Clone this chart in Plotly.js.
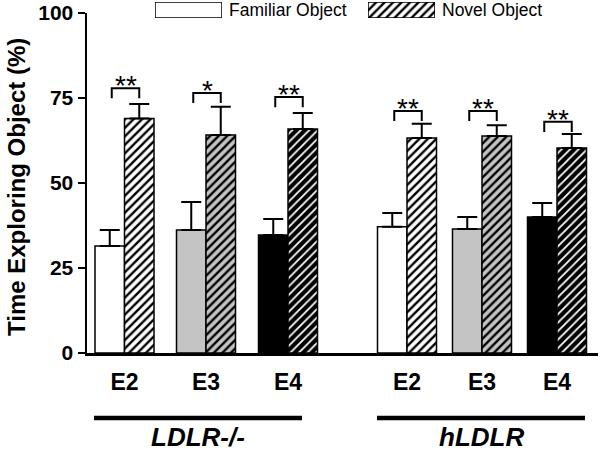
<!DOCTYPE html>
<html>
<head>
<meta charset="utf-8">
<script src="https://cdn.plot.ly/plotly-3.0.1.min.js"></script>
<style>html,body{margin:0;padding:0;background:#fff}#chart{width:600px;height:454px}</style>
</head>
<body>
<div id="chart"></div>
<script>
// ---- data ----
const categories = ['E2', 'E3', 'E4', 'E2', 'E3', 'E4'];
const groupLabels = ['LDLR-/-', 'hLDLR'];
const familiarMean = [31.5, 36.2, 34.7, 37.1, 36.5, 40.0];
const familiarSEM  = [4.7, 8.2, 4.7, 4.1, 3.5, 4.1];
const novelMean    = [69.0, 64.1, 65.9, 63.2, 63.8, 60.3];
const novelSEM     = [4.2, 8.3, 4.7, 4.2, 3.2, 4.1];
const sigLabels    = ['**', '*', '**', '**', '**', '**'];
const sigHeights   = [77.9, 76.5, 75.3, 71.2, 71.2, 68.0];
const seriesNames  = ['Familiar Object', 'Novel Object'];
const levels       = ['E2', 'E3', 'E4'];
const yTitle       = 'Time Exploring Object (%)';
const yTicks       = [0, 25, 50, 75, 100];

// ---- layout helpers (positions / styles) ----
const pairCenters = [37.5, 119, 201, 320, 395, 470];
const groupSpans = [[7, 215], [290, 498]];
const barW = 29.5;
const FONT = 'Liberation Sans, Arial, sans-serif';
const levelFill = {E2: '#ffffff', E3: '#c4c4c4', E4: '#000000'};
const levelStripe = {E2: '#000000', E3: '#000000', E4: '#ffffff'};
const levelSolid = {E2: 0.4, E3: 0.4, E4: 0.3};

const famX = pairCenters.map(c => c - barW / 2);
const novX = pairCenters.map(c => c + barW / 2);

const familiar = {
  type: 'bar', x: famX, y: familiarMean, width: barW,
  name: seriesNames[0], showlegend: false, hoverinfo: 'skip',
  marker: {color: categories.map(c => levelFill[c]), line: {color: '#000', width: 1.5}},
  error_y: {type: 'data', symmetric: false, array: familiarSEM,
            arrayminus: familiarSEM.map(() => 0), color: '#000', thickness: 2, width: 10}
};

// novel bars: one trace per genotype level so each gets its own hatch colours
const novelTraces = levels.map(lv => {
  const idx = categories.map((c, i) => c === lv ? i : -1).filter(i => i >= 0);
  return {
    type: 'bar', x: idx.map(i => novX[i]), y: idx.map(i => novelMean[i]), width: barW,
    name: seriesNames[1] + ' ' + lv, showlegend: false, hoverinfo: 'skip',
    marker: {color: levelFill[lv], line: {color: '#000', width: 1.5},
             pattern: {shape: '/', bgcolor: levelFill[lv], fgcolor: levelStripe[lv], fgopacity: 1,
                       size: 6, solidity: levelSolid[lv]}},
    error_y: {type: 'data', symmetric: false, array: idx.map(i => novelSEM[i]),
              arrayminus: idx.map(() => 0), color: '#000', thickness: 2, width: 10}
  };
});

// significance brackets
const bx = [], by = [];
sigHeights.forEach((h, i) => {
  const l = famX[i] + 2, r = novX[i];
  bx.push(l, l, r, r, null);
  by.push(h - 3, h, h, h - 3, null);
});
const brackets = {type: 'scatter', mode: 'lines', x: bx, y: by, showlegend: false,
  hoverinfo: 'skip', line: {color: '#000', width: 2}, cliponaxis: false};

// legend swatches drawn as bars in small subplots
const legFam = {type: 'bar', x: [0], y: [1], width: 1, xaxis: 'x2', yaxis: 'y2',
  showlegend: false, hoverinfo: 'skip', cliponaxis: false,
  marker: {color: '#fff', line: {color: '#000', width: 1.5}}};
const legNov = {type: 'bar', x: [0], y: [1], width: 1, xaxis: 'x3', yaxis: 'y3',
  showlegend: false, hoverinfo: 'skip', cliponaxis: false,
  marker: {color: '#fff', line: {color: '#000', width: 1.5},
           pattern: {shape: '/', bgcolor: '#fff', fgcolor: '#000', fgopacity: 1, size: 6, solidity: 0.4}}};

const H = 353; // plot-area height in px (margin t = 0)
const py = p => (H - p) / H; // pixel row -> paper y
const px = p => (p - 87) / 511; // pixel column -> paper x

const annotations = [];
sigLabels.forEach((s, i) => {
  annotations.push({x: (famX[i] + 2 + novX[i]) / 2, y: sigHeights[i], xref: 'x', yref: 'y',
    text: s, showarrow: false, xanchor: 'center', yanchor: 'bottom', yshift: -15,
    font: {family: FONT, size: 28, color: '#000'}});
});
groupLabels.forEach((g, i) => {
  annotations.push({x: (groupSpans[i][0] + groupSpans[i][1]) / 2, y: py(437), xref: 'x', yref: 'paper',
    text: '<b><i>' + g + '</i></b>', showarrow: false, xanchor: 'center', yanchor: 'middle',
    font: {family: FONT, size: 26, color: '#000'}});
});
annotations.push({x: px(227), y: py(10), xref: 'paper', yref: 'paper', text: seriesNames[0],
  showarrow: false, xanchor: 'left', yanchor: 'middle', font: {family: FONT, size: 17.5, color: '#000'}});
annotations.push({x: px(440), y: py(10), xref: 'paper', yref: 'paper', text: seriesNames[1],
  showarrow: false, xanchor: 'left', yanchor: 'middle', font: {family: FONT, size: 17.5, color: '#000'}});
annotations.push({x: px(16), y: py(187), xref: 'paper', yref: 'paper', text: '<b>' + yTitle + '</b>',
  textangle: -90, showarrow: false, xanchor: 'center', yanchor: 'middle',
  font: {family: FONT, size: 24, color: '#000'}});

const shapes = groupSpans.map(s => ({type: 'line', xref: 'x', yref: 'paper',
  x0: s[0], x1: s[1], y0: py(418), y1: py(418), line: {color: '#000', width: 4.5}}));

const layout = {
  width: 600, height: 454,
  margin: {l: 87, r: 2, t: 0, b: 101},
  paper_bgcolor: '#fff', plot_bgcolor: 'rgba(0,0,0,0)',
  barmode: 'overlay', showlegend: false,
  font: {family: FONT, color: '#000'},
  xaxis: {range: [0, 511], showline: true, linewidth: 2.5, linecolor: '#000',
          showgrid: false, zeroline: false, ticks: '', tickvals: pairCenters, ticktext: categories,
          tickfont: {family: FONT, size: 23, weight: 'bold', color: '#000'}, ticklabelstandoff: 7,
          fixedrange: true},
  yaxis: {domain: [0, 340 / H], range: [0, 100], showline: true, linewidth: 2.5, linecolor: '#000',
          showgrid: false, zeroline: false, ticks: 'outside', ticklen: 7, tickwidth: 2.5, tickcolor: '#000',
          tickvals: yTicks, ticktext: yTicks.map(String),
          tickfont: {family: FONT, size: 21, weight: 'bold', color: '#000'},
          fixedrange: true},
  xaxis2: {domain: [px(155), px(222)], range: [-0.5, 0.5], visible: false, anchor: 'y2', fixedrange: true},
  yaxis2: {domain: [py(18), py(2)], range: [0, 1], visible: false, anchor: 'x2', fixedrange: true},
  xaxis3: {domain: [px(368), px(435)], range: [-0.5, 0.5], visible: false, anchor: 'y3', fixedrange: true},
  yaxis3: {domain: [py(18), py(2)], range: [0, 1], visible: false, anchor: 'x3', fixedrange: true},
  annotations: annotations,
  shapes: shapes
};

Plotly.newPlot('chart', [familiar].concat(novelTraces, [brackets, legFam, legNov]), layout,
  {displayModeBar: false, staticPlot: true});
</script>
</body>
</html>
